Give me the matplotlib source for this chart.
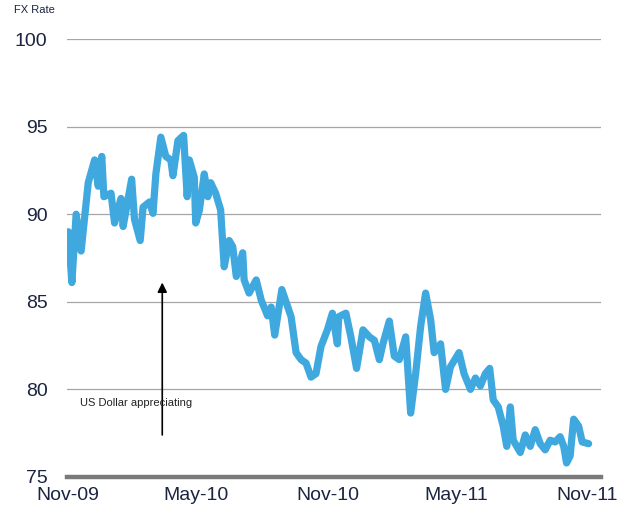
import matplotlib
matplotlib.use("Agg")
import matplotlib.pyplot as plt
import pandas as pd

plt.rcParams["font.family"] = ["Liberation Sans", "DejaVu Sans"]

# Weekly-ish FX rate observations
dates = [
    "2009-11-02", "2009-11-07", "2009-11-13", "2009-11-20", "2009-11-30",
    "2009-12-09", "2009-12-14", "2009-12-19", "2009-12-22", "2010-01-01",
    "2010-01-06", "2010-01-15", "2010-01-18", "2010-01-30", "2010-02-03",
    "2010-02-11", "2010-02-15", "2010-02-24", "2010-03-01", "2010-03-05",
    "2010-03-12", "2010-03-19", "2010-03-26", "2010-03-29", "2010-04-05",
    "2010-04-13", "2010-04-18", "2010-04-21", "2010-04-28", "2010-04-30",
    "2010-05-05", "2010-05-12", "2010-05-17", "2010-05-21", "2010-05-28",
    "2010-06-04", "2010-06-09", "2010-06-16", "2010-06-21", "2010-06-26",
    "2010-07-05", "2010-07-07", "2010-07-14", "2010-07-24", "2010-07-31",
    "2010-08-09", "2010-08-14", "2010-08-19", "2010-08-29", "2010-09-11",
    "2010-09-18", "2010-09-25", "2010-10-02", "2010-10-09", "2010-10-16",
    "2010-10-23", "2010-11-01", "2010-11-08", "2010-11-15", "2010-11-17",
    "2010-11-27", "2010-12-04", "2010-12-12", "2010-12-21", "2010-12-30",
    "2011-01-06", "2011-01-13", "2011-01-18", "2011-01-27", "2011-02-03",
    "2011-02-10", "2011-02-19", "2011-02-26", "2011-03-05", "2011-03-12",
    "2011-03-19", "2011-03-26", "2011-03-31", "2011-04-09", "2011-04-16",
    "2011-04-23", "2011-05-05", "2011-05-12", "2011-05-21", "2011-05-28",
    "2011-06-04", "2011-06-11", "2011-06-17", "2011-06-22", "2011-06-29",
    "2011-07-06", "2011-07-11", "2011-07-16", "2011-07-20", "2011-07-25",
    "2011-07-30", "2011-08-06", "2011-08-13", "2011-08-20", "2011-08-27",
    "2011-09-03", "2011-09-10", "2011-09-17", "2011-09-24", "2011-09-29",
    "2011-10-03", "2011-10-08", "2011-10-13", "2011-10-20", "2011-10-25",
    "2011-11-03",
]
fx_rate = [
    89.0, 86.1, 90.0, 87.9, 91.8,
    93.1, 91.6, 93.3, 91.0, 91.2,
    89.5, 90.9, 89.3, 92.0, 89.7,
    88.5, 90.4, 90.7, 90.05, 92.3,
    94.4, 93.3, 93.1, 92.2, 94.2,
    94.5, 91.0, 93.1, 92.1, 89.5,
    90.2, 92.3, 91.0, 91.8, 91.2,
    90.25, 87.0, 88.5, 88.15, 86.45,
    87.8, 86.25, 85.5, 86.25, 85.1,
    84.2, 84.7, 83.1, 85.7, 84.15,
    82.1, 81.7, 81.5, 80.7, 80.9,
    82.45, 83.4, 84.35, 82.6, 84.15,
    84.35, 83.0, 81.2, 83.4, 83.0,
    82.8, 81.7, 82.6, 83.9, 81.9,
    81.7, 83.0, 78.65, 80.9, 83.6,
    85.5, 84.0, 82.1, 82.6, 80.0,
    81.3, 82.1, 80.9, 80.0, 80.65,
    80.2, 80.9, 81.2, 79.4, 79.0,
    77.9, 76.75, 79.0, 77.1, 76.75,
    76.4, 77.4, 76.75, 77.7, 76.9,
    76.55, 77.1, 77.0, 77.3, 76.75,
    75.8, 76.2, 78.3, 77.9, 77.0,
    76.9,
]
tick_dates = ["2009-11-01", "2010-05-01", "2010-11-01", "2011-05-01", "2011-11-01"]
tick_labels = ["Nov-09", "May-10", "Nov-10", "May-11", "Nov-11"]
y_ticks = [75, 80, 85, 90, 95, 100]

x = pd.to_datetime(dates)

fig = plt.figure(figsize=(6.31, 5.14), dpi=100)
ax = fig.add_axes([0.106, 0.072, 0.846, 0.852])

ax.plot(x, fx_rate, color="#3fa8de", lw=5.2, solid_joinstyle="round",
        solid_capstyle="round", zorder=3)

ax.set_ylim(75, 100)
ax.set_xlim(pd.Timestamp("2009-10-31"), pd.Timestamp("2011-11-20"))

for v in y_ticks[1:]:
    ax.axhline(v, color="#a6a6a6", lw=0.9, zorder=1)

ax.set_yticks(y_ticks)
ax.set_yticklabels([str(v) for v in y_ticks], fontsize=14, color="#1b2440")
ax.set_xticks(pd.to_datetime(tick_dates))
ax.set_xticklabels(tick_labels, fontsize=14, color="#1b2440")
ax.tick_params(axis="y", length=0, pad=14)
ax.tick_params(axis="x", length=0, pad=7)

for side in ["top", "right", "left"]:
    ax.spines[side].set_visible(False)
ax.spines["bottom"].set_color("#7a7a7a")
ax.spines["bottom"].set_linewidth(3.2)
ax.spines["bottom"].set_zorder(4)

fig.text(0.022, 0.981, "FX Rate", fontsize=8, color="#1b2440", ha="left", va="center")

ax.annotate("", xy=(pd.Timestamp("2010-03-14"), 86.1),
            xytext=(pd.Timestamp("2010-03-14"), 77.4),
            arrowprops=dict(arrowstyle="-|>", color="black", lw=1.2,
                            mutation_scale=14, shrinkA=0, shrinkB=0),
            zorder=5)
ax.text(pd.Timestamp("2009-11-18"), 79.25, "US Dollar appreciating",
        fontsize=8, color="#222222", ha="left", va="center", zorder=6)

fig.savefig("out.png", dpi=100)
